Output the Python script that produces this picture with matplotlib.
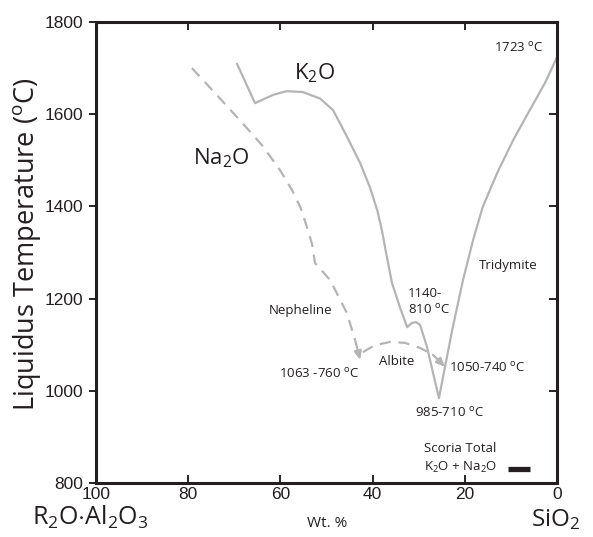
import matplotlib
matplotlib.use("Agg")
import matplotlib.pyplot as plt
from matplotlib import lines as mlines

plt.rcParams['font.family'] = ['Open Sans', 'DejaVu Sans']
plt.rcParams['mathtext.fontset'] = 'custom'
plt.rcParams['mathtext.rm'] = 'Open Sans'
plt.rcParams['mathtext.it'] = 'Open Sans'

# K2O liquidus (solid)
k2o_x = [69.4, 65.5, 61.6, 58.6, 55.1, 51.4, 48.6, 47.1, 44.9, 42.7, 40.6, 39.0, 38.0,
         36.9, 35.8, 34.1, 32.5, 31.5, 30.6, 29.7, 28.2, 26.9, 25.6,
         24.3, 22.6, 20.4, 18.2, 16.1, 13.0, 9.5, 5.9, 2.6, 0.0]
k2o_y = [1709, 1624, 1642, 1650, 1648, 1634, 1609, 1581, 1538, 1494, 1442, 1392, 1349,
         1290, 1234, 1182, 1138, 1147, 1149, 1143, 1095, 1039, 984,
         1052, 1138, 1240, 1327, 1399, 1472, 1544, 1609, 1668, 1724]

# Na2O liquidus, nepheline field (dashed)
neph_x = [79.2, 74.2, 68.8, 64.0, 60.1, 57.5, 55.7, 54.4, 53.1, 52.5, 49.2, 45.6, 43.8, 42.7]
neph_y = [1700, 1646, 1587, 1533, 1479, 1436, 1399, 1360, 1317, 1277, 1240, 1169, 1110, 1067]

# Na2O liquidus, albite field (dashed)
alb_x = [42.1, 39.5, 36.2, 33.0, 29.7, 26.9, 24.3]
alb_y = [1084, 1099, 1106, 1104, 1093, 1078, 1052]

# scoria total marker
scoria_x = [10.6, 5.9]
scoria_y = [830, 830]

xticks = [100, 80, 60, 40, 20, 0]
yticks = [800, 1000, 1200, 1400, 1600, 1800]

fig = plt.figure(figsize=(5.93, 5.37), dpi=100)
ax = fig.add_axes([0.1619, 0.1006, 0.7774, 0.8584])

grey = '#b4b4b4'
ax.plot(k2o_x, k2o_y, color=grey, lw=1.6, solid_joinstyle='round')
ax.plot(neph_x[:-1], neph_y[:-1], color=grey, lw=1.6, dashes=(5, 3.5))
ax.plot(alb_x[:-1], alb_y[:-1], color=grey, lw=1.6, dashes=(5, 3.5))
ax.annotate('', xy=(neph_x[-1], neph_y[-1]), xytext=(neph_x[-2], neph_y[-2]),
            arrowprops=dict(arrowstyle='-|>,head_length=0.5,head_width=0.22',
                            color=grey, lw=1.6, shrinkA=0, shrinkB=0))
ax.annotate('', xy=(alb_x[-1], alb_y[-1]), xytext=(alb_x[-2], alb_y[-2]),
            arrowprops=dict(arrowstyle='-|>,head_length=0.5,head_width=0.22',
                            color=grey, lw=1.6, shrinkA=0, shrinkB=0))
ax.plot(scoria_x, scoria_y, color='#231f20', lw=3.8, solid_capstyle='butt')

ax.set_xlim(100, 0)
ax.set_ylim(800, 1800)
ax.set_xticks(xticks)
ax.set_yticks(yticks)
for lab in ax.get_xticklabels() + ax.get_yticklabels():
    lab.set_fontfamily('Liberation Sans')
    lab.set_fontsize(12.5)
    lab.set_color('#231f20')
ax.tick_params(axis='x', direction='in', top=True, length=6, width=1.2, pad=3)
ax.tick_params(axis='y', direction='in', right=True, length=6, width=1.2, pad=9)
# left ticks point outwards, right ticks inwards
for t in ax.yaxis.get_major_ticks():
    t.tick1line.set_marker(mlines.TICKLEFT)
    t.tick1line.set_markersize(5)
for sp in ax.spines.values():
    sp.set_linewidth(2.2)
    sp.set_color('#231f20')

tc = '#231f20'
fs = 9.5
ax.text(52.5, 1689, r'K$_2$O', fontsize=16, ha='center', va='center', color=tc)
ax.text(72.9, 1505, r'Na$_2$O', fontsize=16, ha='center', va='center', color=tc)
ax.text(8.2, 1744, r'1723 $^\mathrm{o}$C', fontsize=fs, ha='center', va='center', color=tc)
ax.text(10.6, 1271, 'Tridymite', fontsize=fs, ha='center', va='center', color=tc)
ax.text(32.3, 1192, '1140-\n810 $^\mathrm{o}$C', fontsize=fs, ha='left', va='center',
        linespacing=1.25, color=tc)
ax.text(55.7, 1175, 'Nepheline', fontsize=fs, ha='center', va='center', color=tc)
ax.text(43.0, 1037, r'1063 -760 $^\mathrm{o}$C', fontsize=fs, ha='right', va='center', color=tc)
ax.text(34.7, 1063, 'Albite', fontsize=fs, ha='center', va='center', color=tc)
ax.text(23.4, 1049, r'1050-740 $^\mathrm{o}$C', fontsize=fs, ha='left', va='center', color=tc)
ax.text(23.2, 952, r'985-710 $^\mathrm{o}$C', fontsize=fs, ha='center', va='center', color=tc)
ax.text(21.0, 874, 'Scoria Total', fontsize=fs, ha='center', va='center', color=tc)
ax.text(21.0, 833, r'K$_2$O + Na$_2$O', fontsize=fs, ha='center', va='center', color=tc)

fig.text(0.046, 0.545, r'Liquidus Temperature ($^\mathrm{o}$C)', rotation=90,
         fontsize=19.5, ha='center', va='center', color=tc)
fig.text(0.152, 0.036, r'R$_2$O$\cdot$Al$_2$O$_3$', fontsize=18, ha='center', va='center', color=tc)
fig.text(0.551, 0.026, 'Wt. %', fontsize=11, ha='center', va='center', color=tc)
fig.text(0.937, 0.032, r'SiO$_2$', fontsize=17.5, ha='center', va='center', color=tc)

fig.savefig('out.png', dpi=100)
